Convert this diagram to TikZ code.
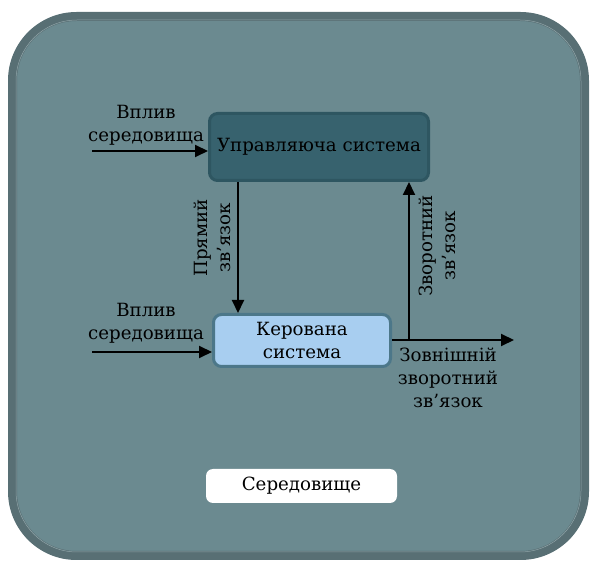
\documentclass[tikz,border=0pt]{standalone}
\usepackage{fontspec}
\setmainfont{DejaVu Serif}
\usetikzlibrary{arrows.meta}
\definecolor{envfill}{HTML}{6B8A90}
\definecolor{envedge}{HTML}{586F74}
\definecolor{envline}{HTML}{8FA4A8}
\definecolor{ctrlfill}{HTML}{37626E}
\definecolor{ctrledge}{HTML}{2E5661}
\definecolor{objfill}{HTML}{A8CEF0}
\definecolor{objedge}{HTML}{4C7789}
\begin{document}
\begin{tikzpicture}[x=1pt,y=-1pt,
  lbl/.style={font=\fontsize{18.2}{23}\selectfont, align=center, inner sep=0pt},
  sysbox/.style={rounded corners=8pt, line width=3pt, inner sep=0pt,
    font=\fontsize{18.2}{23}\selectfont, align=center},
  flow/.style={line width=2pt, -{Triangle[length=13pt,width=12pt]}}]
\useasboundingbox (0,0) rectangle (590,561);
% environment frame
\draw[envedge, fill=envfill, line width=9pt, rounded corners=64pt]
  (12.5,16.5) rectangle (584.5,555.5);
\draw[envline, line width=0.5pt, rounded corners=61pt]
  (16,20) rectangle (581,552);
% systems
\node[sysbox, draw=ctrledge, fill=ctrlfill, minimum width=219pt, minimum height=67pt]
  (ctrl) at (319,147) {Управляюча система};
\node[sysbox, draw=objedge, fill=objfill, minimum width=177pt, minimum height=52pt]
  (obj) at (302,340.5) {Керована\\система};
\node[fill=white, rounded corners=7pt, minimum width=191pt, minimum height=34pt,
  inner sep=0pt, font=\fontsize{18.2}{23}\selectfont] (env) at (301.5,486) {Середовище};
% free ends
\coordinate (in1) at (92,151);
\coordinate (in2) at (92,352);
\coordinate (out) at (514,340);
\coordinate (fb) at (409,340);
\coordinate (fwd) at (238,182);
% connectors
\draw[flow] (in1) -- (in1 -| ctrl.west);
\draw[flow] (in2) -- (in2 -| obj.west);
\draw[flow] (fwd |- ctrl.south) -- (fwd |- obj.north);
\draw[flow] (obj.east |- out) -- (out);
\draw[flow] (fb) -- (fb |- ctrl.south);
% labels
\node[lbl] (l1) at (146,125) {Вплив\\середовища};
\node[lbl] (l2) at (146,323) {Вплив\\середовища};
\node[lbl, rotate=90] (l3) at (212,238) {Прямий\\зв’язок};
\node[lbl, rotate=90] (l4) at (437,246) {Зворотний\\зв’язок};
\node[lbl] (l5) at (448,378) {Зовнішній\\зворотний\\зв’язок};
\end{tikzpicture}
\end{document}
